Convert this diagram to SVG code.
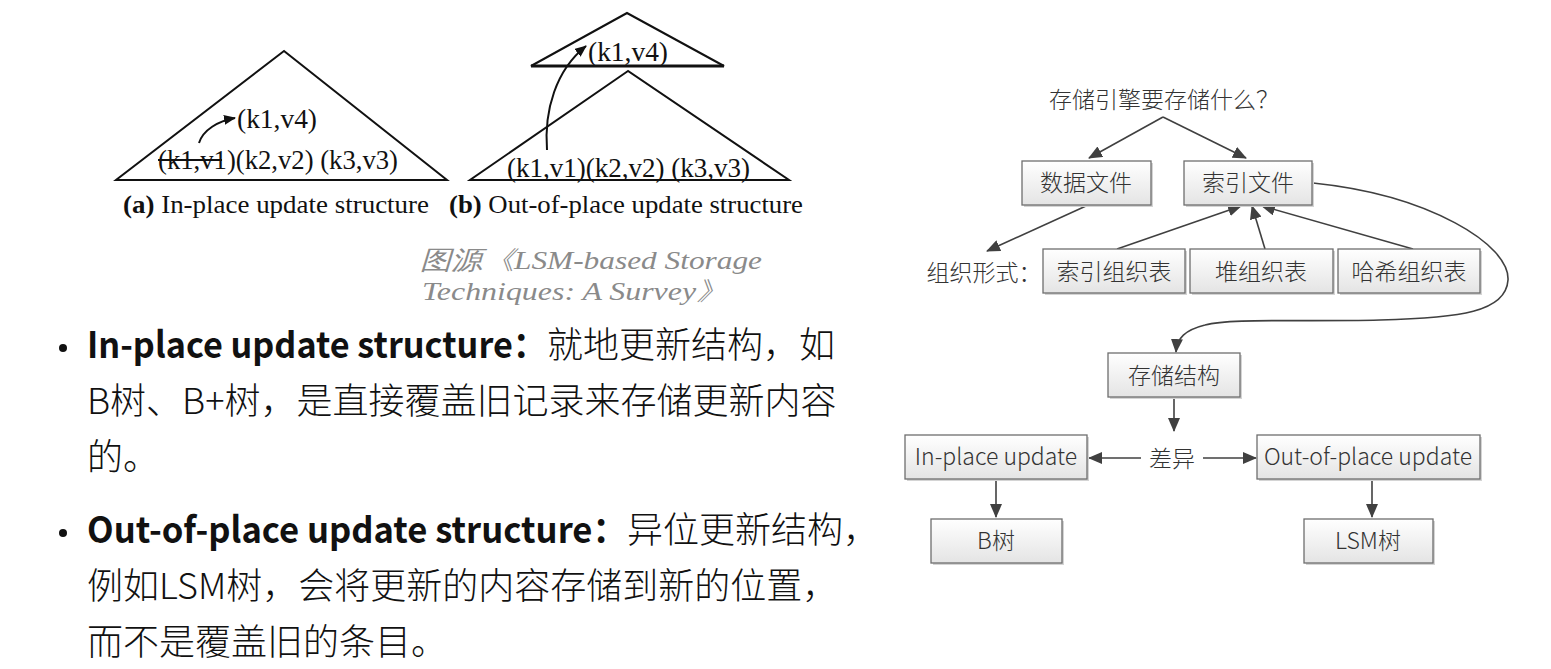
<svg xmlns="http://www.w3.org/2000/svg" width="1551" height="669" viewBox="0 0 1551 669">
<style>
.tri{fill:none;stroke:#111;stroke-width:2}
.tm{font-family:"Liberation Serif","Times New Roman",serif;fill:#111}
.cap{font-family:"Liberation Serif",serif;font-style:italic;fill:#8a8a8a;font-size:26px}
.bl{font-family:"Noto Sans CJK SC",sans-serif;fill:#111;font-size:36px;font-weight:300}
.blb{font-weight:600}
.box{fill:url(#g);stroke:#6e6e6e;stroke-width:1.3}
.sh{fill:#d4d4d4}
.lbl{font-family:"Noto Sans CJK SC",sans-serif;fill:#333;font-size:23px;font-weight:300;text-anchor:middle}
.con{fill:none;stroke:#404040;stroke-width:1.6}
</style>
<defs>
<linearGradient id="g" x1="0" y1="0" x2="0" y2="1"><stop offset="0" stop-color="#ffffff"/><stop offset="1" stop-color="#e4e4e4"/></linearGradient>
<marker id="ah" markerUnits="userSpaceOnUse" markerWidth="14" markerHeight="12" refX="13" refY="6" orient="auto"><path d="M0,0 L14,6 L0,12 z" fill="#404040"/></marker>
<marker id="bh" markerUnits="userSpaceOnUse" markerWidth="12" markerHeight="10" refX="11" refY="5" orient="auto"><path d="M0,0 L12,5 L0,10 z" fill="#111"/></marker>
</defs>
<rect width="1551" height="669" fill="#fff"/>

<g id="fig-a">
<polygon class="tri" points="284,51 116,180 447,180"/>
<path d="M199,143 C203,130 218,121 235,118" fill="none" stroke="#111" stroke-width="2" marker-end="url(#bh)"/>
<text class="tm" x="237" y="128" font-size="28" textLength="80" lengthAdjust="spacingAndGlyphs">(k1,v4)</text>
<text class="tm" x="158" y="169" font-size="28" textLength="240" lengthAdjust="spacingAndGlyphs">(k1,v1)(k2,v2) (k3,v3)</text>
<line x1="158" y1="160" x2="222" y2="160" stroke="#111" stroke-width="2"/>
<text class="tm" x="123" y="213" font-size="26" textLength="306" lengthAdjust="spacingAndGlyphs"><tspan font-weight="bold">(a)</tspan> In-place update structure</text>
</g>

<g id="fig-b">
<polygon class="tri" points="627,13 531,66 724,66"/>
<line x1="531" y1="66" x2="724" y2="66" stroke="#111" stroke-width="3"/>
<polygon class="tri" points="628,71 470,180 789,180"/>
<path d="M547,150 C544,110 556,70 586,46" fill="none" stroke="#111" stroke-width="2" marker-end="url(#bh)"/>
<text class="tm" x="588" y="61" font-size="28" textLength="80" lengthAdjust="spacingAndGlyphs">(k1,v4)</text>
<text class="tm" x="507" y="177" font-size="28" textLength="243" lengthAdjust="spacingAndGlyphs">(k1,v1)(k2,v2) (k3,v3)</text>
<text class="tm" x="449" y="213" font-size="26" textLength="354" lengthAdjust="spacingAndGlyphs"><tspan font-weight="bold">(b)</tspan> Out-of-place update structure</text>
</g>

<g id="source">
<text class="cap" x="420" y="269" textLength="342" lengthAdjust="spacingAndGlyphs">图源《LSM-based Storage</text>
<text class="cap" x="422" y="300" textLength="306" lengthAdjust="spacingAndGlyphs">Techniques: A Survey》</text>
</g>

<g id="bullets">
<circle cx="63" cy="348" r="4" fill="#111"/>
<text class="bl" x="87" y="358"><tspan class="blb" textLength="460" lengthAdjust="spacingAndGlyphs">In-place update structure：</tspan><tspan>就地更新结构，如</tspan></text>
<text class="bl" x="87" y="414">B树、B+树，是直接覆盖旧记录来存储更新内容</text>
<text class="bl" x="87" y="470">的。</text>
<circle cx="63" cy="533" r="4" fill="#111"/>
<text class="bl" x="87" y="543"><tspan class="blb" textLength="540" lengthAdjust="spacingAndGlyphs">Out-of-place update structure：</tspan><tspan>异位更新结构，</tspan></text>
<text class="bl" x="87" y="599">例如LSM树，会将更新的内容存储到新的位置，</text>
<text class="bl" x="87" y="655">而不是覆盖旧的条目。</text>
</g>

<g id="connectors">
<line class="con" x1="1163" y1="117" x2="1089" y2="158" marker-end="url(#ah)"/>
<line class="con" x1="1163" y1="117" x2="1246" y2="158" marker-end="url(#ah)"/>
<line class="con" x1="1086" y1="206" x2="987" y2="251" marker-end="url(#ah)"/>
<line class="con" x1="1117" y1="249" x2="1241" y2="206" marker-end="url(#ah)"/>
<line class="con" x1="1265" y1="249" x2="1252" y2="206" marker-end="url(#ah)"/>
<line class="con" x1="1413" y1="249" x2="1262" y2="206" marker-end="url(#ah)"/>
<path class="con" d="M1313,183 C1430,195 1510,245 1508,280 C1506,312 1460,318 1380,320 C1300,322 1230,318 1205,325 C1185,330 1177,338 1176,352" marker-end="url(#ah)"/>
<line class="con" x1="1174" y1="398" x2="1174" y2="431" marker-end="url(#ah)"/>
<line class="con" x1="1141" y1="458" x2="1089" y2="458" marker-end="url(#ah)"/>
<line class="con" x1="1203" y1="458" x2="1256" y2="458" marker-end="url(#ah)"/>
<line class="con" x1="996" y1="480" x2="996" y2="517" marker-end="url(#ah)"/>
<line class="con" x1="1372" y1="480" x2="1372" y2="517" marker-end="url(#ah)"/>
</g>

<g id="title"><text class="lbl" x="1164" y="108" font-size="24">存储引擎要存储什么？</text></g>

<g id="n-data"><rect class="sh" x="1024" y="163" width="129" height="44"/><rect class="box" x="1022" y="161" width="129" height="44"/><text class="lbl" x="1086" y="191">数据文件</text></g>
<g id="n-index"><rect class="sh" x="1186" y="163" width="128" height="44"/><rect class="box" x="1184" y="161" width="128" height="44"/><text class="lbl" x="1248" y="191">索引文件</text></g>
<g id="org-label"><text class="lbl" x="984" y="281" font-size="24">组织形式：</text></g>
<g id="n-iot"><rect class="sh" x="1045" y="251" width="142" height="44"/><rect class="box" x="1043" y="249" width="142" height="44"/><text class="lbl" x="1114" y="280">索引组织表</text></g>
<g id="n-heap"><rect class="sh" x="1192" y="251" width="143" height="44"/><rect class="box" x="1190" y="249" width="143" height="44"/><text class="lbl" x="1261" y="280">堆组织表</text></g>
<g id="n-hash"><rect class="sh" x="1340" y="251" width="142" height="44"/><rect class="box" x="1338" y="249" width="142" height="44"/><text class="lbl" x="1409" y="280">哈希组织表</text></g>
<g id="n-struct"><rect class="sh" x="1110" y="355" width="132" height="44"/><rect class="box" x="1108" y="353" width="132" height="44"/><text class="lbl" x="1174" y="384">存储结构</text></g>
<g id="diff"><text class="lbl" x="1172" y="467">差异</text></g>
<g id="n-inplace"><rect class="sh" x="907" y="437" width="182" height="44"/><rect class="box" x="905" y="435" width="182" height="44"/><text class="lbl" x="996" y="465" font-size="20">In-place update</text></g>
<g id="n-outplace"><rect class="sh" x="1259" y="437" width="223" height="44"/><rect class="box" x="1257" y="435" width="223" height="44"/><text class="lbl" x="1368" y="465" font-size="20">Out-of-place update</text></g>
<g id="n-btree"><rect class="sh" x="933" y="521" width="131" height="44"/><rect class="box" x="931" y="519" width="131" height="44"/><text class="lbl" x="996" y="549" font-size="20">B树</text></g>
<g id="n-lsm"><rect class="sh" x="1306" y="521" width="129" height="44"/><rect class="box" x="1304" y="519" width="129" height="44"/><text class="lbl" x="1368" y="549" font-size="20">LSM树</text></g>
</svg>
